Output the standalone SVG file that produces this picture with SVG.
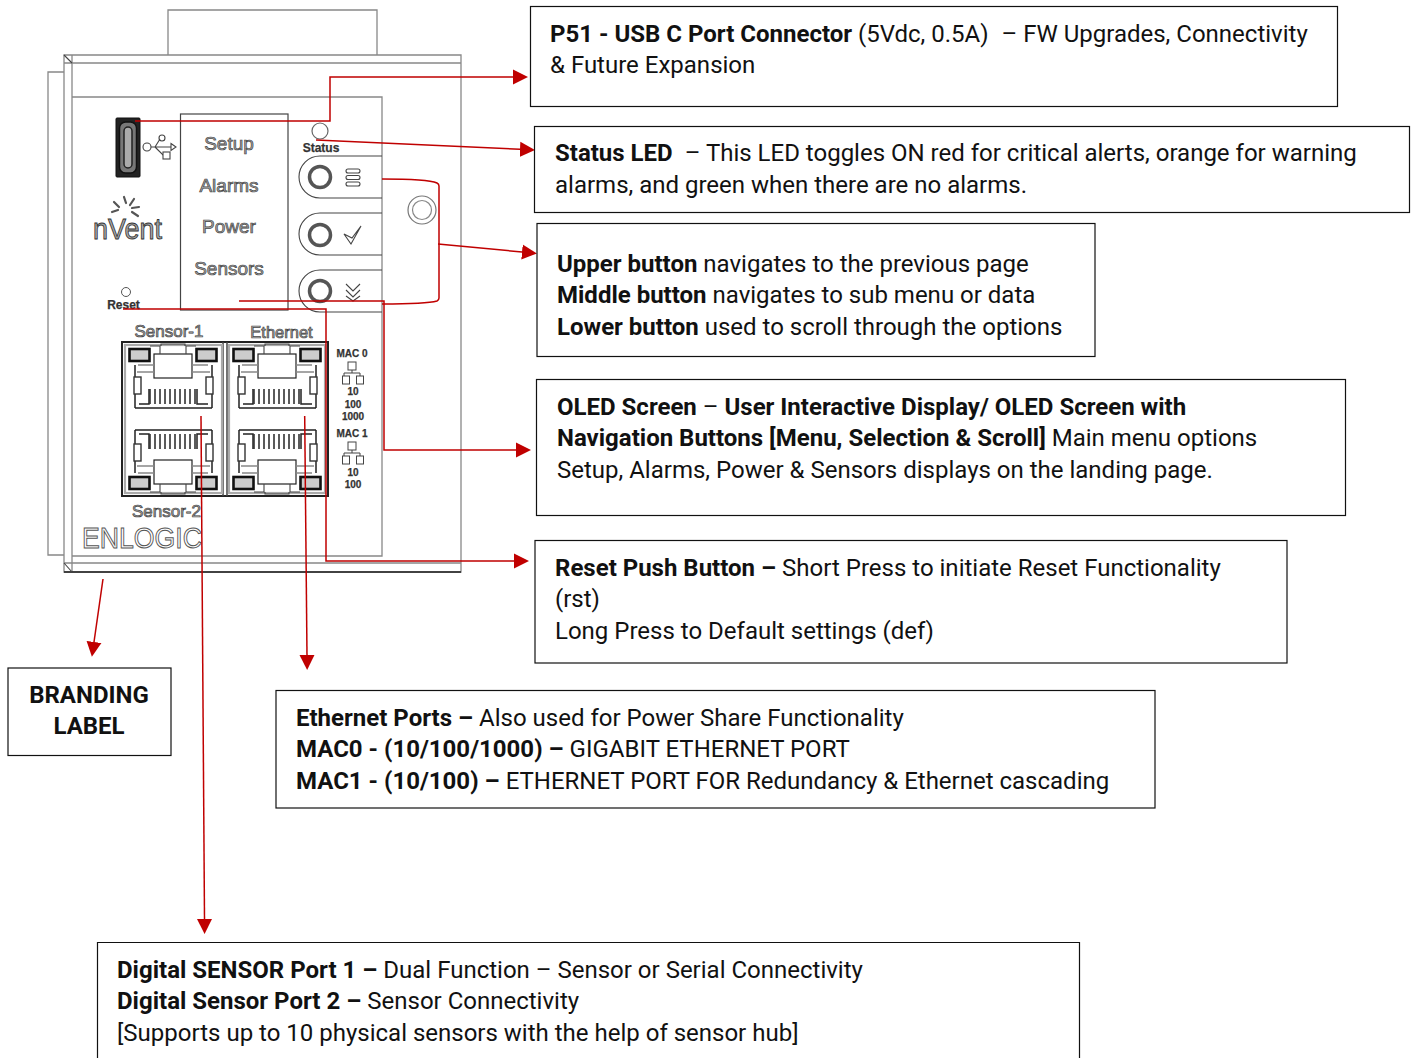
<svg xmlns="http://www.w3.org/2000/svg" width="1416" height="1058" viewBox="0 0 1416 1058">
<style>
.box{fill:#fff;stroke:#111;stroke-width:1.2}
.t{font-family:Roboto,"Liberation Sans",sans-serif;font-size:24px;fill:#111}
.t tspan.b,.b{font-weight:700}
.g{fill:none;stroke:#888;stroke-width:1.3}
.d{fill:none;stroke:#444;stroke-width:1.1}
.k{fill:none;stroke:#222;stroke-width:1.5}
.lbl{font-family:"Liberation Sans",Arial,sans-serif;text-anchor:middle;fill:#aaa;stroke:#444;stroke-width:.7}
.sm{font-family:"Liberation Sans",Arial,sans-serif;font-weight:700;text-anchor:middle;fill:#333;stroke:#333;stroke-width:.25;font-size:10px}
.r{fill:none;stroke:#c00000;stroke-width:1.5}
</style>
<defs>
<marker id="ah" markerUnits="userSpaceOnUse" markerWidth="16" markerHeight="16" refX="0" refY="8" orient="auto"><path d="M0 0.5L15 8L0 15.5Z" fill="#c00000"/></marker>
<g id="port">
<path class="k" d="M135 408V365M212 408V365M135 408H212"/>
<path class="k" d="M139 404H149V389M197 389V404H208"/>
<path d="M150 389v15M155 389v15M160 389v15M165 389v15M170 389v15M175 389v15M180 389v15M185 389v15M190 389v15M195 389v15" stroke="#333" stroke-width="1.600"/>
<rect x="134" y="377" width="7" height="17" fill="#fff" stroke="#333" stroke-width="1.400"/><rect x="206" y="377" width="7" height="17" fill="#fff" stroke="#333" stroke-width="1.400"/>
<rect x="154" y="354" width="38" height="24" fill="#fff" stroke="#222" stroke-width="1.200"/>
<rect x="129.500" y="349" width="20" height="12" fill="#ccc" stroke="#111" stroke-width="2.600"/>
<rect x="196.500" y="349" width="20" height="12" fill="#ccc" stroke="#111" stroke-width="2.600"/>
<path class="d" d="M150 346H160V354M186 354V346H196M161 346V344H185V346"/>
<path class="g" d="M138 365H154M192 365H208M137 372H154M192 372H210"/>
</g>
<g id="net" fill="none" stroke="#444" stroke-width="1">
<rect x="348" y="362" width="8" height="8"/><path d="M352 370V373M344 376V373H360V376"/>
<rect x="342.500" y="376" width="7" height="8"/><rect x="356.500" y="376" width="7" height="8"/>
</g>
</defs>

<g id="device">
<path class="g" d="M168 55V10H377V55"/>
<path class="g" d="M64 55H461V572H64ZM64 63H461M72 55V572M64 563H461"/>
<path d="M64 572H461" stroke="#222" stroke-width="1.500"/>
<path class="g" d="M64 72H48V555H64"/>
<path class="g" d="M72 97H382V556H72"/>
<path class="d" d="M64 55L72 63M64 563L72 572"/>
</g>

<g id="usb-port">
<rect x="116" y="118" width="24" height="59" rx="1" fill="#222" stroke="#111"/>
<rect x="119.500" y="122" width="17" height="51" rx="6" fill="#777" stroke="#111" stroke-width="1.500"/>
<rect x="124" y="127" width="8" height="41" rx="4" fill="#aaa" stroke="#222" stroke-width="1.500"/>
<g class="d">
<circle cx="147" cy="147" r="4" fill="#fff"/><circle cx="162" cy="138" r="3" fill="#fff"/>
<path d="M151 147H171M171 143.500L176 147L171 150.500ZM155 147L160 139M155 147L163 155H169"/><rect x="163" y="152" width="7" height="7" fill="#fff"/>
</g>
</g>

<g id="logo">
<g stroke="#555" stroke-width="2.200" stroke-linecap="round" fill="none">
<path d="M124 197L126 203M134 199L130 205M114 202L119 207M112 212L118 210M132 208L139 207M132 212L138 216"/>
</g>
<text x="127.500" y="238.500" class="lbl" font-size="30" textLength="69" lengthAdjust="spacingAndGlyphs" style="fill:#aaa;stroke:#333;stroke-width:.9">nVent</text>
</g>

<g id="oled">
<rect x="180.500" y="114" width="107.500" height="196" fill="none" stroke="#444" stroke-width="1.200"/>
<text x="229" y="150" class="lbl" font-size="19">Setup</text>
<text x="229" y="192" class="lbl" font-size="19">Alarms</text>
<text x="229" y="233" class="lbl" font-size="19">Power</text>
<text x="229" y="275" class="lbl" font-size="19">Sensors</text>
</g>

<g id="status-led">
<circle cx="320" cy="131" r="8" fill="#fff" stroke="#666" stroke-width="1.200"/>
<text x="321" y="152" class="sm" style="font-size:12px">Status</text>
</g>

<g id="buttons">
<path class="d" d="M382 156H320A21 21 0 0 0 320 198H382"/>
<circle cx="320" cy="177" r="10.500" fill="none" stroke="#555" stroke-width="3.500"/>
<g class="d"><rect x="346" y="169" width="14" height="4" rx="2"/><rect x="346" y="175.500" width="14" height="4" rx="2"/><rect x="346" y="182" width="14" height="4" rx="2"/></g>
<path class="d" d="M382 213H320A21 21 0 0 0 320 255H382"/>
<circle cx="320" cy="235" r="10.500" fill="none" stroke="#555" stroke-width="3.500"/>
<path class="d" d="M344 234L351 244L361 226L352 238Z"/>
<path class="d" d="M382 270H320A21 21 0 0 0 320 312H382"/>
<circle cx="320" cy="291" r="10.500" fill="none" stroke="#555" stroke-width="3.500"/>
<path class="d" d="M346 284L353 291L360 284M346 290L353 297L360 290M346 296L353 301L360 296"/>
<circle cx="422" cy="210" r="14" fill="none" stroke="#777" stroke-width="1.200"/><circle cx="422" cy="210" r="9.500" fill="none" stroke="#888" stroke-width="1.200"/>
</g>

<g id="reset">
<circle cx="126" cy="292" r="4.500" fill="#fff" stroke="#555"/>
<text x="123.500" y="309" class="sm" style="font-size:12px">Reset</text>
</g>

<g id="ports">
<rect x="122" y="342" width="206" height="154" fill="none" stroke="#222" stroke-width="2"/>
<path d="M223 342V496M227 342V496" stroke="#444" stroke-width="1.500"/>
<rect x="125" y="345" width="97" height="148" fill="none" stroke="#aaa" stroke-width="2.200"/>
<rect x="229" y="345" width="96" height="148" fill="none" stroke="#aaa" stroke-width="2.200"/>
<use href="#port"/>
<use href="#port" transform="translate(0 838) scale(1 -1)"/>
<use href="#port" transform="translate(104 0)"/>
<use href="#port" transform="translate(104 838) scale(1 -1)"/>
<text x="169" y="337" class="lbl" font-size="17">Sensor-1</text>
<text x="281.500" y="338" class="lbl" font-size="16.500">Ethernet</text>
<text x="166.500" y="517" class="lbl" font-size="17">Sensor-2</text>
<text x="142" y="548" class="lbl" font-size="30" textLength="120" lengthAdjust="spacingAndGlyphs" style="fill:#fff;stroke:#555;stroke-width:1">ENLOGIC</text>
<text x="352" y="357" class="sm">MAC 0</text>
<use href="#net"/>
<text x="353" y="395" class="sm">10</text>
<text x="353" y="408" class="sm">100</text>
<text x="353" y="420" class="sm">1000</text>
<text x="352" y="437" class="sm">MAC 1</text>
<use href="#net" transform="translate(0 80)"/>
<text x="353" y="476" class="sm">10</text>
<text x="353" y="488" class="sm">100</text>
</g>

<g id="connectors">
<path class="r" marker-end="url(#ah)" d="M135 121H330V77H513"/>
<path class="r" marker-end="url(#ah)" d="M316 140L520 149.300"/>
<path class="r" d="M382 179C405 179 430 180 437 183Q439 184 439 186V298Q439 300 437 301C430 303 405 304 382 304"/>
<path class="r" marker-end="url(#ah)" d="M438 244L522 252"/>
<path class="r" marker-end="url(#ah)" d="M239 301H384V450H516"/>
<path class="r" marker-end="url(#ah)" d="M123 309H326V561H514"/>
<path class="r" marker-end="url(#ah)" d="M304.700 416L307 655"/>
<path class="r" marker-end="url(#ah)" d="M201 416L204.500 919"/>
<path class="r" marker-end="url(#ah)" d="M103 579L94 642"/>
</g>

<g id="box-p51"><rect class="box" x="530.500" y="6.500" width="807" height="100"/>
<text class="t" x="550" y="42"><tspan class="b">P51 - USB C Port Connector</tspan> (5Vdc, 0.5A) <tspan dx="7">– FW Upgrades, Connectivity</tspan></text>
<text class="t" x="550" y="73">&amp; Future Expansion</text></g>

<g id="box-status"><rect class="box" x="534.500" y="126.500" width="875" height="86"/>
<text class="t" x="555" y="161"><tspan class="b">Status LED</tspan> <tspan dx="6">– This LED toggles ON red for critical alerts, orange for warning</tspan></text>
<text class="t" x="555" y="193">alarms, and green when there are no alarms.</text></g>

<g id="box-buttons"><rect class="box" x="537" y="223.500" width="558" height="133"/>
<text class="t" x="557" y="272"><tspan class="b">Upper button</tspan> navigates to the previous page</text>
<text class="t" x="557" y="303"><tspan class="b">Middle button</tspan> navigates to sub menu or data</text>
<text class="t" x="557" y="335"><tspan class="b">Lower button</tspan> used to scroll through the options</text></g>

<g id="box-oled"><rect class="box" x="536.500" y="379.500" width="809" height="136"/>
<text class="t" x="557" y="415"><tspan class="b">OLED Screen</tspan> – <tspan class="b">User Interactive Display/ OLED Screen with</tspan></text>
<text class="t" x="557" y="446"><tspan class="b">Navigation Buttons [Menu, Selection &amp; Scroll]</tspan> Main menu options</text>
<text class="t" x="557" y="478">Setup, Alarms, Power &amp; Sensors displays on the landing page.</text></g>

<g id="box-reset"><rect class="box" x="535" y="540.500" width="752" height="122.500"/>
<text class="t" x="555" y="576"><tspan class="b">Reset Push Button –</tspan> Short Press to initiate Reset Functionality</text>
<text class="t" x="555" y="607">(rst)</text>
<text class="t" x="555" y="639">Long Press to Default settings (def)</text></g>

<g id="box-ethernet"><rect class="box" x="276" y="690.500" width="879" height="117.500"/>
<text class="t" x="296" y="726"><tspan class="b">Ethernet Ports –</tspan> Also used for Power Share Functionality</text>
<text class="t" x="296" y="757"><tspan class="b">MAC0 - (10/100/1000) –</tspan> GIGABIT ETHERNET PORT</text>
<text class="t" x="296" y="789"><tspan class="b">MAC1 - (10/100) –</tspan> ETHERNET PORT FOR Redundancy &amp; Ethernet cascading</text></g>

<g id="box-branding"><rect class="box" x="8" y="668" width="163" height="87.500"/>
<text class="t b" x="89" y="703" text-anchor="middle">BRANDING</text>
<text class="t b" x="89" y="734" text-anchor="middle">LABEL</text></g>

<g id="box-digital"><path class="box" d="M97.500 1060V942.500H1079.500V1060"/>
<text class="t" x="117" y="978"><tspan class="b">Digital SENSOR Port 1 –</tspan> Dual Function – Sensor or Serial Connectivity</text>
<text class="t" x="117" y="1009"><tspan class="b">Digital Sensor Port 2 –</tspan> Sensor Connectivity</text>
<text class="t" x="117" y="1041">[Supports up to 10 physical sensors with the help of sensor hub]</text></g>
</svg>
